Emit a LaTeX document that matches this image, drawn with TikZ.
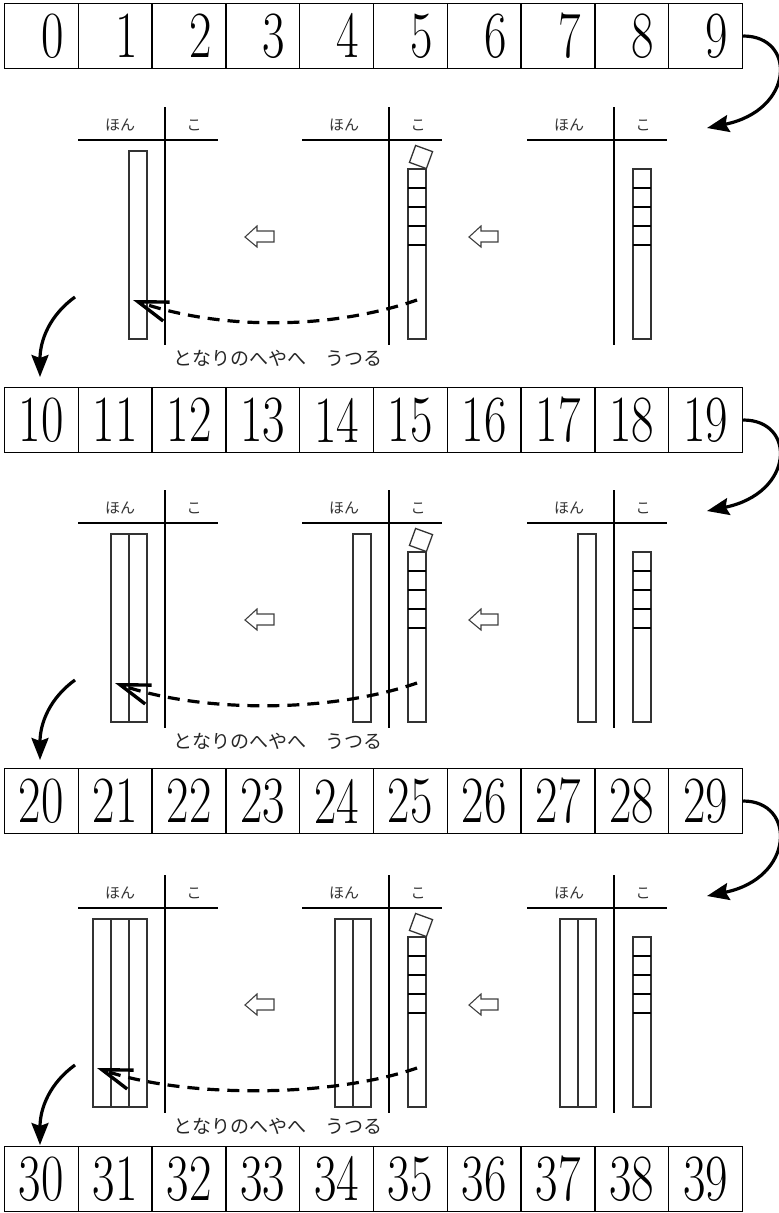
\documentclass[tikz,border=0pt]{standalone}
\usepackage{fontspec}
\newfontfamily\jpfont{Noto Sans CJK JP}
\usetikzlibrary{arrows.meta}

\begin{document}
\begin{tikzpicture}[
  x=1pt, y=-1pt,
  numcell/.style={draw, line width=1.4pt, minimum width=73.8pt, minimum height=65pt,
    inner sep=0pt, font=\fontsize{66}{66}\selectfont},
  tline/.style={line width=2pt},
  rod/.style={draw=black!80, line width=1.3pt},
  cube/.style={draw=black!80, line width=1.3pt, minimum size=18pt, inner sep=0pt},
  head/.style={font=\jpfont\fontsize{15}{15}\selectfont, text=black!80},
  note/.style={font=\jpfont\fontsize{19}{19}\selectfont, text=black!85},
  flow/.style={line width=3.2pt, -{Stealth[length=22pt,width=17pt,inset=3pt]}},
  carry/.style={line width=3.2pt, dash pattern=on 12pt off 8pt,
    -{Straight Barb[length=30pt,width=20pt,line width=3.4pt]}},
  hollow/.style={draw=black!75, line width=1.1pt, fill=white}
]
\useasboundingbox (0,0) rectangle (779,1213);

% ------------------------------------------------------------------
% Number rows
% ------------------------------------------------------------------
\foreach \r/\top in {0/4, 1/388, 2/769, 3/1147} {
  \foreach \i in {0,...,9}
    \node[numcell] (n\r\i) at ({41.4+73.8*\i},\top+32)
      {\scalebox{0.74}[1]{\ifnum\r=0 \phantom{0}\else\r\fi\i}};
}

% ------------------------------------------------------------------
% Three steps
% ------------------------------------------------------------------
\foreach \s/\yh in {1/140, 2/523, 3/908} {
  \pgfmathtruncatemacro{\r}{\s-1}
  \begin{scope}[shift={(0,\yh)}]
    % tables
    \foreach \v/\t in {165/a, 389/b, 614/c} {
      \draw[tline] (\v-87,0) -- (\v+53,0);
      \draw[tline] (\v,-33) -- (\v,205);
      \node[head] (h\s\t) at (\v-45,-15) {ほん};
      \node[head] (k\s\t) at (\v+29,-15) {こ};
    }

    % tens
    \foreach \k in {1,...,\s}
      \draw[rod] ({147-18*\k},11) rectangle ++(18,188);
    \ifnum\s>1
      \foreach \k in {2,...,\s} {
        \draw[rod] ({371-18*(\k-1)},11) rectangle ++(18,188);
        \draw[rod] ({596-18*(\k-1)},11) rectangle ++(18,188);
      }
    \fi

    % ones
    \foreach \v in {389,614} {
      \draw[rod] (\v+19,29) rectangle (\v+37,199);
      \foreach \d in {1,...,4}
        \draw[line width=2pt] (\v+19,{29+18.9*\d}) -- (\v+37,{29+18.9*\d});
    }
    \node[cube, rotate=-20] (t\s) at (421,17) {};

    % hollow arrows
    \foreach \ax in {245,469}
      \draw[hollow] (\ax,97) -- (\ax+12,86) -- (\ax+12,91) -- (\ax+29,91)
        -- (\ax+29,102) -- (\ax+12,102) -- (\ax+12,107) -- cycle;

    % carry
    \coordinate (from\s) at (417,160);
    \coordinate (to\s) at ({151-18*\s},160);
    \draw[carry] (from\s) .. controls (330,190) and ({238-18*\s},190) .. (to\s);
    \node[note] (lbl\s) at (278,218) {となりのへやへ　うつる};

    % turns
    \coordinate (in\s) at (707,-12);
    \draw[flow] (n\r9.east) .. controls +(53,0) and +(88,-18) .. (in\s);
    \coordinate (d\s) at (75,157);
    \coordinate (e\s) at (40,237);
    \draw[flow] (d\s) .. controls (50,175) and (40,200) .. (e\s);
  \end{scope}
}

\end{tikzpicture}
\end{document}
